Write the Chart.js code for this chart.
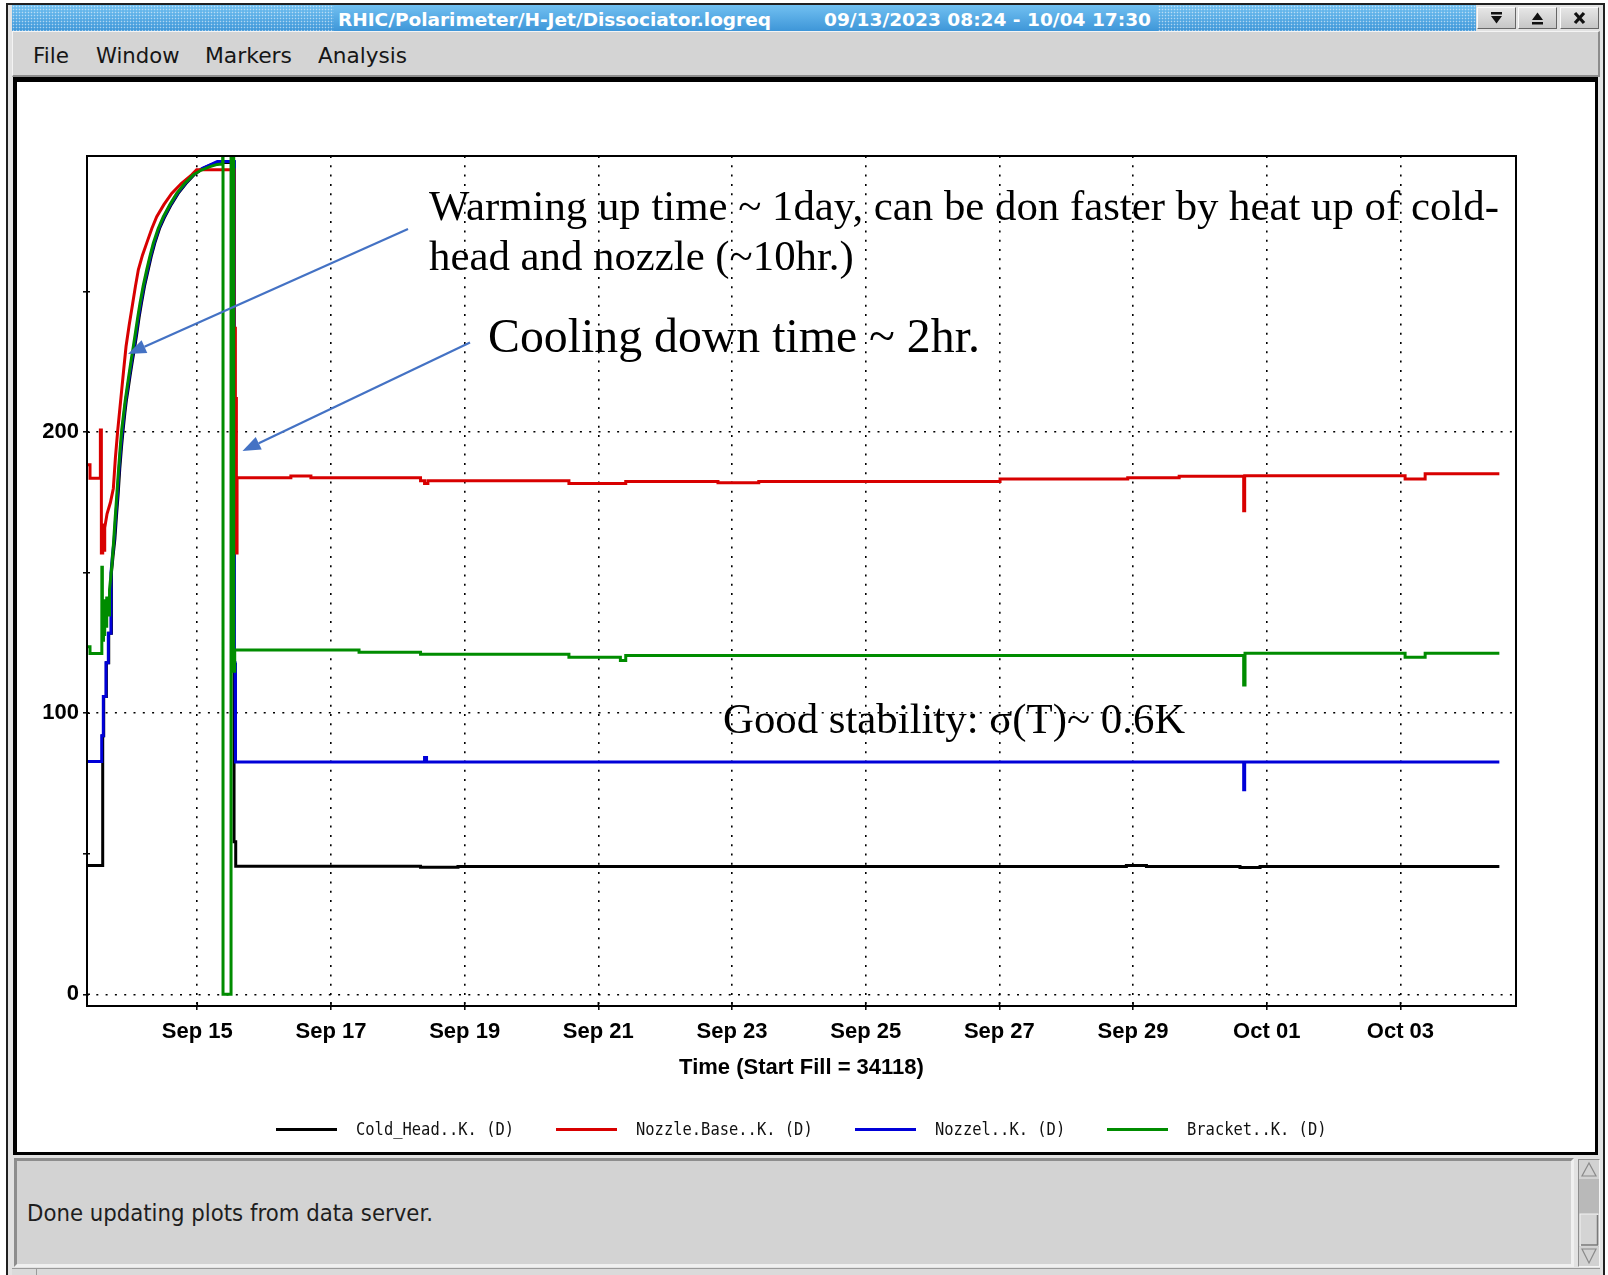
<!DOCTYPE html>
<html lang="en">
<head>
<meta charset="utf-8">
<title>RHIC/Polarimeter/H-Jet/Dissociator.logreq</title>
<script src="https://cdn.jsdelivr.net/npm/chart.js@4.4.1/dist/chart.umd.min.js"></script>
<style>
  html, body { margin: 0; padding: 0; background: #fff; }
  body { position: relative; width: 1608px; height: 1275px; overflow: hidden;
         font-family: "DejaVu Sans", "Liberation Sans", sans-serif; }
  .abs { position: absolute; }
  .fit { white-space: nowrap; transform-origin: 0 50%; display: inline-block; }

  #outer { left: 6px; top: 3px; width: 1599px; height: 1272px; box-sizing: border-box;
           border: 2px solid #202020; border-bottom: none; background: #e2e2e2; }
  #titlebar { left: 12px; top: 5px; width: 1464px; height: 26px;
              background:
                radial-gradient(circle at 1.5px 1.5px, rgba(255,255,255,0.55) 0.6px, rgba(255,255,255,0) 1.1px) 0 0 / 3px 3px,
                linear-gradient(#71c0f1, #3e96d8); }
  #titlemid { left: 334px; top: 5px; width: 824px; height: 26px; background: linear-gradient(#71c0f1, #3e96d8); }
  .ttl { color: #fff; font-weight: bold; font-size: 18px; line-height: 26px; top: 6.5px; }
  .btn { top: 7px; width: 39px; height: 22px; box-sizing: border-box;
         background: linear-gradient(#e6e6e6, #c6c6c6); border: 1px solid;
         border-color: #fbfbfb #666 #666 #fbfbfb; }
  .btn svg { display: block; }
  #menubar { left: 12px; top: 31px; width: 1588px; height: 46px; box-sizing: border-box; background: #d4d4d4;
             border-top: 1px solid #f4f4f4; border-left: 1px solid #f4f4f4;
             border-bottom: 2px solid #8c8c8c; border-right: 2px solid #8c8c8c; }
  .menu { font-size: 21px; line-height: 26px; top: 43px; color: #161616; }
  #blackframe { left: 13px; top: 77px; width: 1585px; height: 1078px; background: #000; }
  #chart { position: absolute; left: 17px; top: 82px; width: 1578px; height: 1070px; background: #fff; }
  .note { font-family: "Liberation Serif", "Times New Roman", serif; color: #000; line-height: 1; white-space: nowrap; z-index: 5; }
  .legtext { font-family: "DejaVu Sans Mono", "Liberation Mono", monospace; font-size: 17px; line-height: 20px; color: #111; }
  .legline { height: 3px; width: 61px; }

  #status { left: 14px; top: 1158px; width: 1560px; height: 109px; box-sizing: border-box; background: #d3d3d3;
            border: 3px solid; border-color: #8d8d8d #f0f0f0 #f0f0f0 #8d8d8d; }
  #statustext { left: 27px; top: 1199px; font-size: 23px; line-height: 28px; color: #1e1e1e; }
  #scroll { left: 1578px; top: 1159px; width: 22px; height: 108px; box-sizing: border-box; background: #b9b9b9;
            border: 1px solid; border-color: #8d8d8d #f4f4f4 #f4f4f4 #8d8d8d; }
  #bottomstrip { left: 12px; top: 1268px; width: 1588px; height: 7px; background: #dadada; border-top: 1px solid #9a9a9a; }
</style>
</head>
<body>

<!-- window chrome -->
<div id="outer" class="abs"></div>
<div id="titlebar" class="abs"></div>
<div id="titlemid" class="abs"></div>
<span class="abs ttl fit" style="left:338px" data-w="433">RHIC/Polarimeter/H-Jet/Dissociator.logreq</span>
<span class="abs ttl fit" style="left:824px" data-w="327">09/13/2023 08:24 - 10/04 17:30</span>

<div class="abs btn" style="left:1477px">
  <svg width="37" height="20" viewBox="0 0 37 20"><rect x="13" y="4" width="11" height="2.5" fill="#111"/><polygon points="13,8 24,8 18.5,15.5" fill="#111"/></svg>
</div>
<div class="abs btn" style="left:1518px">
  <svg width="37" height="20" viewBox="0 0 37 20"><polygon points="13,12 24,12 18.5,4.5" fill="#111"/><rect x="13" y="14" width="11" height="2.5" fill="#111"/></svg>
</div>
<div class="abs btn" style="left:1560px">
  <svg width="37" height="20" viewBox="0 0 37 20"><path d="M14 5 L23 15 M23 5 L14 15" stroke="#111" stroke-width="3.2"/></svg>
</div>

<div id="menubar" class="abs"></div>
<span class="abs menu fit" style="left:33px" data-w="36">File</span>
<span class="abs menu fit" style="left:96px" data-w="83.5">Window</span>
<span class="abs menu fit" style="left:205px" data-w="87">Markers</span>
<span class="abs menu fit" style="left:318px" data-w="89">Analysis</span>

<div id="blackframe" class="abs"></div>
<canvas id="chart" width="1578" height="1070"></canvas>

<!-- annotations -->
<div class="abs note" style="left:429px; top:185px; font-size:42.8px">Warming up time ~ 1day, can be don faster by heat up of cold-</div>
<div class="abs note" style="left:429px; top:235px; font-size:42.8px">head and nozzle (~10hr.)</div>
<div class="abs note" style="left:488px; top:312px; font-size:47.8px">Cooling down time ~ 2hr.</div>
<div class="abs note" style="left:723px; top:698px; font-size:42.8px">Good stability: σ(T)~ 0.6K</div>

<div id="legend"></div>

<!-- status area -->
<div id="status" class="abs"></div>
<span id="statustext" class="abs fit" data-w="406">Done updating plots from data server.</span>
<div id="scroll" class="abs">
  <svg width="20" height="106" viewBox="0 0 20 106">
    <rect x="0" y="0" width="20" height="19" fill="#d2d2d2"/>
    <polygon points="3,16 17,16 10,3" fill="#d2d2d2" stroke="#8a8a8a" stroke-width="1.2"/>
    <rect x="1" y="54" width="18" height="32" fill="#d4d4d4" stroke="#f2f2f2" stroke-width="1"/>
    <line x1="2" y1="85" x2="19" y2="85" stroke="#7a7a7a" stroke-width="1.5"/>
    <line x1="18.5" y1="55" x2="18.5" y2="85" stroke="#7a7a7a" stroke-width="1.5"/>
    <rect x="0" y="87" width="20" height="19" fill="#d2d2d2"/>
    <polygon points="3,89 17,89 10,103" fill="#d2d2d2" stroke="#8a8a8a" stroke-width="1.2"/>
  </svg>
</div>
<div id="bottomstrip" class="abs"></div>
<div class="abs" style="left:36px; top:1269px; width:1px; height:6px; background:#9a9a9a"></div>

<script>
// ---- axis ticks ----
const xTickValues = [15, 17, 19, 21, 23, 25, 27, 29, 31, 33];           // day of September (Oct 01 = 31)
const xTickLabels = ['Sep 15', 'Sep 17', 'Sep 19', 'Sep 21', 'Sep 23', 'Sep 25', 'Sep 27', 'Sep 29', 'Oct 01', 'Oct 03'];
const yTickValues = [0, 50, 100, 150, 200, 250];
const yLabelValues = [0, 100, 200];

// ---- series ----
const seriesNames = ['Cold_Head..K. (D)', 'Nozzle.Base..K. (D)', 'Nozzel..K. (D)', 'Bracket..K. (D)'];
const seriesColors = ['#000000', '#d80000', '#0000d8', '#008c00'];

// logged samples: time in days of September, temperature in K
// (a repeated time marks a jump between two held readings)
const coldHeadT = [13.35, 13.585, 13.585, 13.60, 13.60, 13.64, 13.64, 13.675, 13.675, 13.715, 13.715,
  13.74, 13.767, 13.79, 13.816, 13.84, 13.867, 13.891, 13.917, 13.94, 13.966, 13.997, 14.03, 14.065, 14.097,
  14.13, 14.165, 14.21, 14.265, 14.31, 14.364, 14.435, 14.514, 14.61, 14.714, 14.83, 14.96, 15.08, 15.21, 15.31,
  15.55, 15.55, 15.575, 15.575, 18.34, 18.34, 18.90, 18.90, 28.90, 28.90, 29.20, 29.20, 30.60, 30.60, 30.90, 30.90, 34.48];
const coldHeadK = [45.8, 45.8, 92, 92, 106, 106, 118, 118, 128.5, 128.5, 150,
  156, 162, 170, 178, 187, 195, 201, 207, 211.5, 215.5, 220.5, 225.5, 230.5, 235.5,
  241, 246, 252, 257.8, 262.5, 267.3, 272.5, 276.7, 281, 285, 288.5, 291.8, 293.8, 295.2, 296,
  296, 54.3, 54.3, 45.6, 45.6, 45.2, 45.2, 45.5, 45.5, 45.8, 45.8, 45.5, 45.5, 45.1, 45.1, 45.5, 45.5];

const nozzleBaseT = [13.35, 13.395, 13.395, 13.55, 13.55, 13.565, 13.565, 13.585, 13.585, 13.60, 13.60, 13.615, 13.615,
  13.65, 13.70, 13.744, 13.775, 13.81, 13.84, 13.869, 13.90, 13.934, 13.98, 14.034, 14.075, 14.118, 14.18, 14.243,
  14.32, 14.393, 14.50, 14.617, 14.76, 14.916, 14.99,
  15.55, 15.55, 15.57, 15.57, 15.585, 15.585, 15.595, 15.595,
  16.40, 16.40, 16.70, 16.70, 18.34, 18.34, 18.40, 18.40, 18.45, 18.45, 20.56, 20.56, 21.41, 21.41,
  22.79, 22.79, 23.40, 23.40, 27.01, 27.01, 28.92, 28.92, 29.69, 29.69, 30.655, 30.655, 30.67, 30.67,
  33.07, 33.07, 33.37, 33.37, 34.48];
const nozzleBaseK = [188.4, 188.4, 183.6, 183.6, 200.8, 200.8, 157, 157, 167, 167, 158, 158, 166,
  171, 175, 180, 191, 200.8, 208, 215, 222.5, 230.5, 238, 245.9, 252, 257.8, 263, 267.3,
  272.5, 276.7, 281, 285, 288.5, 291.6, 293.4,
  293.4, 237, 237, 212, 212, 157, 157, 183.8,
  183.8, 184.4, 184.4, 183.8, 183.8, 182.7, 182.7, 181.8, 181.8, 182.7, 182.7, 181.8, 181.8, 182.5,
  182.5, 182.0, 182.0, 182.5, 182.5, 183.4, 183.4, 183.8, 183.8, 184.3, 184.3, 172.1, 172.1, 184.5,
  184.5, 183.4, 183.4, 185.2, 185.2];

const nozzelT = [13.35, 13.57, 13.57, 13.594, 13.594, 13.634, 13.634, 13.669, 13.669, 13.709, 13.709,
  13.73, 13.757, 13.78, 13.806, 13.83, 13.857, 13.881, 13.907, 13.93, 13.956, 13.987, 14.02, 14.055, 14.087,
  14.12, 14.155, 14.20, 14.255, 14.30, 14.354, 14.425, 14.504, 14.60, 14.704, 14.82, 14.95, 15.07, 15.20, 15.30,
  15.555, 15.555, 15.565, 15.565, 15.575, 15.575, 18.40, 18.40, 18.43, 18.43, 30.655, 30.655, 30.67, 30.67, 34.48];
const nozzelK = [82.8, 82.8, 92, 92, 106, 106, 118, 118, 128.5, 128.5, 150,
  156, 162, 170, 178, 187, 195, 201, 207, 211.5, 215.5, 220.5, 225.5, 230.5, 235.5,
  241, 246, 252, 257.8, 262.5, 267.3, 272.5, 276.7, 281, 285, 288.5, 291.8, 293.8, 295.2, 296.3,
  296.3, 118, 118, 108, 108, 82.7, 82.7, 84.3, 84.3, 82.7, 82.7, 72.8, 72.8, 82.7, 82.7];

const bracketT = [13.35, 13.395, 13.395, 13.572, 13.572, 13.58, 13.58, 13.59, 13.59, 13.60, 13.60, 13.615, 13.615,
  13.63, 13.63, 13.645, 13.645, 13.665, 13.665, 13.68, 13.68, 13.694, 13.72, 13.745, 13.77,
  13.794, 13.82, 13.845, 13.869, 13.895, 13.92, 13.944, 13.975, 14.01, 14.043, 14.075, 14.11, 14.143, 14.19, 14.243, 14.29,
  14.342, 14.415, 14.492, 14.59, 14.692, 14.81, 14.94, 15.06, 15.19, 15.30, 15.38,
  15.38, 15.385, 15.385, 15.505, 15.505, 15.545, 15.545, 15.56, 15.56,
  17.42, 17.42, 18.34, 18.34, 20.56, 20.56, 21.33, 21.33, 21.41, 21.41,
  30.655, 30.655, 30.675, 30.675, 33.07, 33.07, 33.37, 33.37, 34.48];
const bracketK = [123.7, 123.7, 121.3, 121.3, 152, 152, 126, 126, 138, 138, 128, 128, 140,
  140, 131, 131, 141, 141, 135, 135, 141, 144, 152, 160, 169,
  177, 186, 194, 200.8, 206, 211, 215, 220, 225.5, 230.5, 235.5, 241, 245.9, 252, 257.8, 262.5,
  267.3, 272.5, 276.7, 281, 285, 288.5, 291.6, 293.3, 294.5, 295.3, 295.5,
  302, 302, 0, 0, 302, 302, 115, 115, 122.5,
  122.5, 121.7, 121.7, 121.0, 121.0, 119.9, 119.9, 118.8, 118.8, 120.6,
  120.6, 110.1, 110.1, 121.4, 121.4, 119.9, 119.9, 121.4, 121.4];

// time window of the log request: 09/13 08:24 - 10/04 17:30
const xMin = 13 + 8.4 / 24;
const xMax = 34 + 17.5 / 24;

const toPoints = (t, k) => t.map((x, i) => ({ x: x, y: k[i] }));
const seriesData = [toPoints(coldHeadT, coldHeadK), toPoints(nozzleBaseT, nozzleBaseK),
                    toPoints(nozzelT, nozzelK), toPoints(bracketT, bracketK)];
const drawOrder = [3, 1, 2, 0];   // bracket painted last

const tickFont = { family: '"Liberation Sans", Arial, sans-serif', size: 22, weight: 'bold' };
const gridDots = [2, 7.3];

// frame around the plot, inner halves of the tick marks, and the blue callout arrows
const framePlugin = {
  id: 'plotFrame',
  afterDraw(chart) {
    const { ctx, chartArea: a, scales } = chart;
    ctx.save();
    ctx.strokeStyle = '#000';
    ctx.lineWidth = 2;
    ctx.strokeRect(a.left, a.top, a.right - a.left, a.bottom - a.top);
    ctx.lineWidth = 1.5;
    ctx.beginPath();
    scales.x.ticks.forEach(t => {
      const px = scales.x.getPixelForValue(t.value);
      ctx.moveTo(px, a.bottom); ctx.lineTo(px, a.bottom - 4);
    });
    scales.y.ticks.forEach(t => {
      const py = scales.y.getPixelForValue(t.value);
      ctx.moveTo(a.left, py); ctx.lineTo(a.left + 3, py);
    });
    ctx.stroke();

    const arrows = chart.options.plugins.plotFrame.arrows;
    ctx.strokeStyle = '#4472c4';
    ctx.fillStyle = '#4472c4';
    ctx.lineWidth = 2.2;
    arrows.forEach(([x0, y0, x1, y1]) => {
      const ang = Math.atan2(y1 - y0, x1 - x0);
      const headL = 18, headW = 7;
      const bx = x1 - headL * Math.cos(ang), by = y1 - headL * Math.sin(ang);
      ctx.beginPath(); ctx.moveTo(x0, y0); ctx.lineTo(bx, by); ctx.stroke();
      ctx.beginPath();
      ctx.moveTo(x1, y1);
      ctx.lineTo(bx + headW * Math.sin(ang), by - headW * Math.cos(ang));
      ctx.lineTo(bx - headW * Math.sin(ang), by + headW * Math.cos(ang));
      ctx.closePath(); ctx.fill();
    });
    ctx.restore();
  }
};

const chart = new Chart(document.getElementById('chart'), {
  type: 'line',
  data: {
    datasets: seriesNames.map((name, i) => ({
      label: name,
      data: seriesData[i],
      borderColor: seriesColors[i],
      backgroundColor: seriesColors[i],
      borderWidth: 3,
      borderJoinStyle: 'miter',
      tension: 0,
      pointRadius: 0,
      fill: false,
      clip: 0,
      order: drawOrder[i]
    }))
  },
  options: {
    responsive: false,
    animation: false,
    events: [],
    layout: { padding: { top: 74, right: 79, bottom: 41, left: 0 } },
    plugins: {
      legend: { display: false },
      tooltip: { enabled: false },
      plotFrame: { arrows: [[391, 147, 111, 272], [453, 260.5, 225.5, 369]] }
    },
    scales: {
      x: {
        type: 'linear', min: xMin, max: xMax,
        afterBuildTicks: s => { s.ticks = xTickValues.map(v => ({ value: v })); },
        afterFit: s => { s.height = 105; },
        ticks: {
          autoSkip: false, maxRotation: 0, minRotation: 0, padding: 9, color: '#000', font: tickFont,
          callback: v => { const i = xTickValues.indexOf(v); return i >= 0 ? xTickLabels[i] : ''; }
        },
        grid: { color: '#000', lineWidth: 1.6, tickColor: '#000', tickBorderDash: [],
                tickWidth: 1.5, tickLength: 4 },
        border: { display: false, dash: gridDots },
        title: { display: true, text: 'Time (Start Fill = 34118)', color: '#000', font: tickFont,
                 padding: { top: 0, bottom: 30 } }
      },
      y: {
        type: 'linear', min: -4.16, max: 298.3,
        afterBuildTicks: s => { s.ticks = yTickValues.map(v => ({ value: v })); },
        afterFit: s => { s.width = 70; },
        ticks: {
          padding: 4, color: '#000', font: tickFont,
          callback: v => yLabelValues.includes(v) ? String(v) : ''
        },
        grid: {
          color: c => (c.tick && yLabelValues.includes(c.tick.value)) ? '#000' : 'rgba(0,0,0,0)',
          lineWidth: 1.6, tickColor: '#000', tickBorderDash: [], tickWidth: 1.5, tickLength: 4
        },
        border: { display: false, dash: gridDots }
      }
    }
  },
  plugins: [framePlugin]
});

// legend row under the axis title, centred on the plot area
(function buildLegend() {
  const canvasLeft = 17, canvasTop = 82;
  const a = chart.chartArea;
  const centerX = canvasLeft + (a.left + a.right) / 2;
  const rowY = canvasTop + 1047;
  const charW = 9.3, sampleW = 61, sampleGap = 19, itemGap = 42;
  const widths = seriesNames.map(n => n.length * charW);
  const total = widths.reduce((s, w) => s + sampleW + sampleGap + w, 0) + itemGap * (seriesNames.length - 1);
  let x = centerX - total / 2;
  const host = document.getElementById('legend');
  seriesNames.forEach((name, i) => {
    const line = document.createElement('div');
    line.className = 'abs legline';
    line.style.left = x + 'px';
    line.style.top = (rowY - 1.5) + 'px';
    line.style.background = seriesColors[i];
    host.appendChild(line);
    const txt = document.createElement('span');
    txt.className = 'abs legtext fit';
    txt.textContent = name;
    txt.style.left = (x + sampleW + sampleGap) + 'px';
    txt.style.top = (rowY - 10) + 'px';
    txt.dataset.w = widths[i];
    host.appendChild(txt);
    x += sampleW + sampleGap + widths[i] + itemGap;
  });
})();

// squeeze condensed UI strings to their box widths
document.querySelectorAll('.fit[data-w]').forEach(el => {
  el.style.transform = 'none';
  const natural = el.getBoundingClientRect().width;
  if (natural > 0) el.style.transform = 'scaleX(' + (parseFloat(el.dataset.w) / natural) + ')';
});
</script>
</body>
</html>
